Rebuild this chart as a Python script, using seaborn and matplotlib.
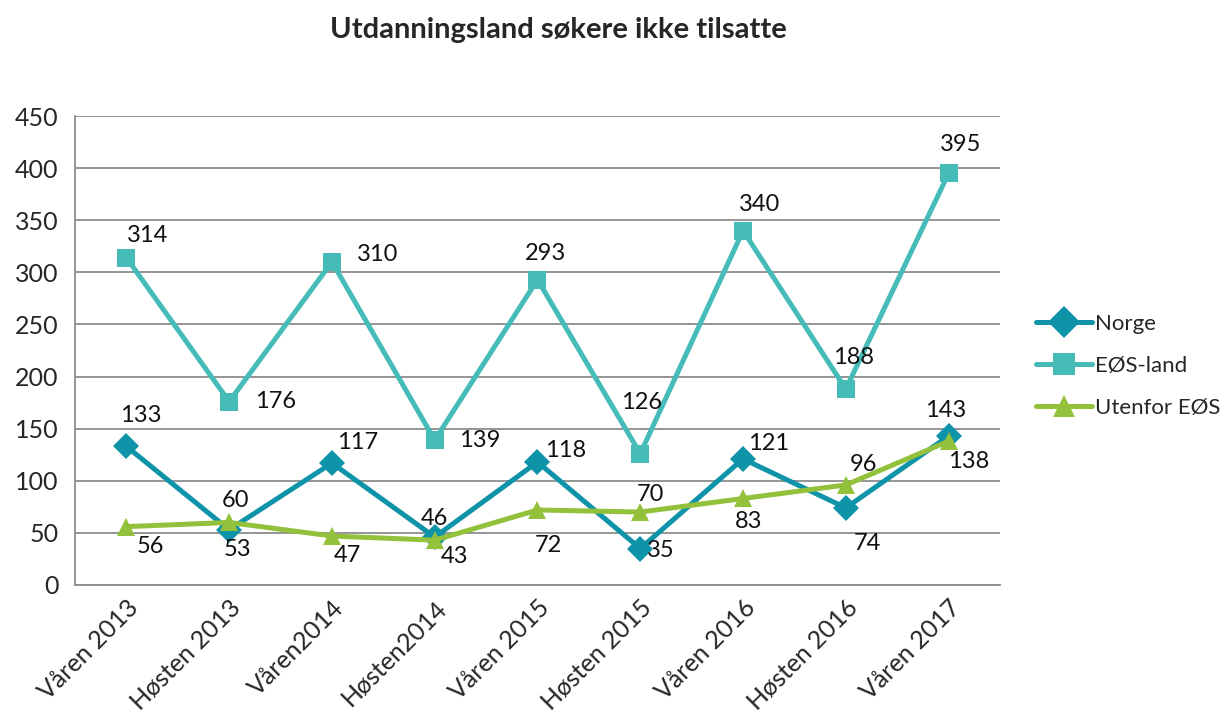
import pandas as pd
import matplotlib
matplotlib.use("Agg")
import matplotlib.pyplot as plt
import seaborn as sns
from matplotlib.ticker import FixedLocator

periods = ["Våren 2013", "Høsten 2013", "Våren2014", "Høsten2014", "Våren 2015",
           "Høsten 2015", "Våren 2016", "Høsten 2016", "Våren 2017"]
norge = [133, 53, 117, 46, 118, 35, 121, 74, 143]
eos_land = [314, 176, 310, 139, 293, 126, 340, 188, 395]
utenfor_eos = [56, 60, 47, 43, 72, 70, 83, 96, 138]

series_names = ["Norge", "EØS-land", "Utenfor EØS"]
series_colors = ["#0F93A8", "#46BCB9", "#93C13B"]
series_markers = ["D", "s", "^"]

# label offsets (pixels) so the numbers sit roughly where the original puts them
label_offsets = {
    "Norge": [(14, 31), (8, -20), (26, 21), (0, 19), (28, 12), (20, -2), (26, 15), (22, -36), (-3, 25)],
    "EØS-land": [(21, 22), (46, 0), (46, 7), (45, 0), (8, 26), (1, 51), (16, 26), (8, 32), (12, 29)],
    "Utenfor EØS": [(24, -20), (6, 22), (15, -19), (20, -16), (11, -36), (10, 18), (6, -23), (18, 20), (20, -20)],
}

df = pd.DataFrame({
    "Periode": periods * 3,
    "Serie": [n for n in series_names for _ in periods],
    "Antall": norge + eos_land + utenfor_eos,
})

sns.set_style("white")
plt.rcParams["font.family"] = ["Lato", "DejaVu Sans"]

fig = plt.figure(figsize=(12.31, 7.13), dpi=100)
ax = fig.add_axes([75 / 1231, 128 / 713, 925 / 1231, 469 / 713])

sns.lineplot(data=df, x="Periode", y="Antall", hue="Serie", style="Serie",
             palette=dict(zip(series_names, series_colors)),
             markers=dict(zip(series_names, series_markers)), dashes=False,
             linewidth=3.6, markersize=13, markeredgewidth=0, ax=ax, sort=False)

for name, vals in zip(series_names, [norge, eos_land, utenfor_eos]):
    for i, v in enumerate(vals):
        dx, dy = label_offsets[name][i]
        ax.annotate(str(v), (i, v), xytext=(dx, dy), textcoords="offset pixels",
                    ha="center", va="center", fontsize=17, color="#111111")

ax.set_xlim(-0.5, len(periods) - 0.5)
ax.set_ylim(0, 450)
ax.set_yticks(range(0, 451, 50))
ax.yaxis.grid(True, color="#8C8C8C", linewidth=1.3)
ax.set_axisbelow(True)
ax.set_xlabel("")
ax.set_ylabel("")

ax.set_xticks(range(len(periods)))
ax.set_xticklabels(periods, rotation=45, ha="right", rotation_mode="anchor", fontsize=18)
ax.xaxis.set_minor_locator(FixedLocator([i - 0.5 for i in range(len(periods) + 1)]))
ax.tick_params(axis="x", which="major", length=0, pad=8)
ax.tick_params(axis="x", which="minor", length=7, width=1.3, color="#8C8C8C", direction="out")
ax.tick_params(axis="y", length=7, width=1.3, color="#8C8C8C", direction="out", labelsize=18, pad=5)

for side in ["top", "right"]:
    ax.spines[side].set_visible(False)
for side in ["left", "bottom"]:
    ax.spines[side].set_color("#8C8C8C")
    ax.spines[side].set_linewidth(1.3)

handles, labels = ax.get_legend_handles_labels()
ax.legend(handles, labels, loc="center left", bbox_to_anchor=(1036 / 1231, 1 - 366 / 713),
          bbox_transform=fig.transFigure, frameon=False, fontsize=16, markerscale=1.25,
          handlelength=2.5, handletextpad=0.15, labelspacing=1.0, borderaxespad=0,
          borderpad=0)

fig.suptitle("Utdanningsland søkere ikke tilsatte", x=558 / 1231, y=1 - 30 / 713,
             fontsize=21, fontweight="bold", va="center")

fig.savefig("out.png", dpi=100)
